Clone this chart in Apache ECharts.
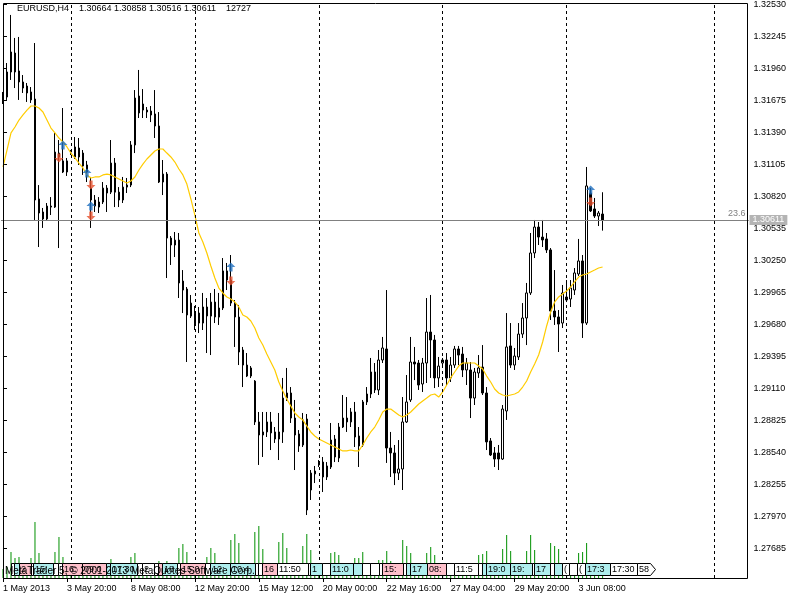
<!DOCTYPE html>
<html><head><meta charset="utf-8">
<script src="https://cdn.jsdelivr.net/npm/echarts@6/dist/echarts.min.js"></script>
<style>html,body{margin:0;padding:0;background:#fff}#c{width:800px;height:600px}</style>
</head><body><div id="c"></div>
<script>
// ---------------- data ----------------
const symbol = 'EURUSD';
const timeframe = 'H4';
const slotCount = 187; // bar slots on the axis (data + empty future)

const opens = [1.31715,1.31706,1.31929,1.32098,1.31938,1.31840,1.31804,1.31751,1.31688,1.30798,
1.30682,1.30620,1.30726,1.30726,1.31207,1.31137,1.31038,1.31216,1.31261,1.31252,
1.31207,1.31101,1.30895,1.30789,1.30726,1.30771,1.30895,1.30859,1.31118,1.30859,
1.30789,1.30904,1.30922,1.31279,1.31715,1.31644,1.31590,1.31581,1.31555,1.31448,
1.30949,1.31020,1.30450,1.30388,1.30432,1.30067,1.29996,1.29755,1.29693,1.29782,
1.29693,1.29836,1.29755,1.29880,1.29746,1.29827,1.30157,1.30076,1.29871,1.29746,
1.29453,1.29319,1.29221,1.29176,1.28812,1.28696,1.28723,1.28812,1.28723,1.28660,
1.28723,1.29025,1.29070,1.28847,1.28705,1.28607,1.28838,1.28206,1.28349,1.28429,
1.28455,1.28322,1.28411,1.28660,1.28491,1.28767,1.28847,1.28812,1.28901,1.28687,
1.28607,1.28990,1.29061,1.29257,1.29097,1.29364,1.29462,1.28580,1.28536,1.28357,
1.28393,1.28812,1.29008,1.29346,1.29337,1.29150,1.29337,1.29613,1.29542,1.29204,
1.29337,1.29364,1.29204,1.29319,1.29462,1.29417,1.29275,1.29275,1.29025,1.29248,
1.29301,1.29070,1.28643,1.28536,1.28536,1.28482,1.28910,1.29489,1.29319,1.29391,
1.29595,1.29738,1.29961,1.30317,1.30548,1.30459,1.30442,1.30344,1.29800,1.29747,
1.29693,1.29925,1.29907,1.29987,1.30130,1.30246,1.29693,1.30851,1.30709,1.30646,
1.30664];
const closes = [1.31671,1.31929,1.32107,1.31929,1.31840,1.31786,1.31742,1.31680,1.30789,1.30673,
1.30620,1.30735,1.30735,1.31216,1.31172,1.31038,1.31137,1.31225,1.31172,1.31172,
1.31092,1.31038,1.30789,1.30735,1.30771,1.30895,1.30851,1.31118,1.30859,1.30789,
1.30904,1.30922,1.31279,1.31697,1.31564,1.31590,1.31573,1.31546,1.31448,1.30949,
1.31020,1.30450,1.30388,1.30432,1.30050,1.29987,1.29765,1.29871,1.29782,1.29693,
1.29836,1.29756,1.29880,1.29747,1.29827,1.30157,1.30076,1.29871,1.29747,1.29435,
1.29319,1.29221,1.29293,1.28812,1.28696,1.28723,1.28812,1.28714,1.28660,1.28723,
1.29025,1.29070,1.28847,1.28696,1.28598,1.28830,1.28028,1.28357,1.28375,1.28455,
1.28322,1.28420,1.28651,1.28500,1.28767,1.28847,1.28812,1.28901,1.28678,1.28598,
1.28990,1.29061,1.29257,1.29097,1.29364,1.29471,1.28580,1.28536,1.28357,1.28393,
1.28812,1.28990,1.29346,1.29328,1.29141,1.29337,1.29613,1.29542,1.29204,1.29310,
1.29364,1.29204,1.29319,1.29462,1.29408,1.29275,1.29337,1.29025,1.29257,1.29293,
1.29070,1.28634,1.28518,1.28482,1.28482,1.28927,1.29480,1.29319,1.29399,1.29595,
1.29738,1.29961,1.30317,1.30548,1.30459,1.30433,1.30344,1.29800,1.29747,1.29684,
1.29961,1.29898,1.30005,1.30139,1.30246,1.29693,1.30914,1.30691,1.30646,1.30673,
1.30611];
const lows = [1.31644,1.31680,1.31858,1.31786,1.31680,1.31742,1.31662,1.31653,1.30611,1.30370,
1.30540,1.30611,1.30655,1.30718,1.30361,1.31029,1.31003,1.31190,1.31154,1.31101,
1.31012,1.30949,1.30540,1.30682,1.30673,1.30753,1.30682,1.30842,1.30726,1.30726,
1.30762,1.30851,1.30904,1.31207,1.31519,1.31519,1.31519,1.31483,1.31341,1.30940,
1.30833,1.30094,1.30210,1.30281,1.29916,1.29782,1.29346,1.29738,1.29631,1.29604,
1.29631,1.29426,1.29408,1.29693,1.29676,1.29809,1.29987,1.29845,1.29480,1.29319,
1.29123,1.29212,1.29203,1.28785,1.28429,1.28500,1.28678,1.28562,1.28625,1.28473,
1.28625,1.28999,1.28803,1.28384,1.28545,1.28589,1.27983,1.28117,1.28268,1.28411,
1.28188,1.28295,1.28393,1.28455,1.28455,1.28758,1.28723,1.28767,1.28589,1.28411,
1.28589,1.28963,1.29025,1.29070,1.29052,1.29337,1.28447,1.28322,1.28250,1.28295,
1.28206,1.28803,1.28990,1.29185,1.29097,1.29079,1.29159,1.29204,1.29114,1.29123,
1.29319,1.29141,1.29168,1.29293,1.29319,1.29212,1.29141,1.28847,1.28963,1.29204,
1.29052,1.28562,1.28509,1.28411,1.28384,1.28473,1.28830,1.29293,1.29275,1.29364,
1.29560,1.29497,1.29943,1.30272,1.30388,1.30370,1.30317,1.29720,1.29676,1.29435,
1.29649,1.29880,1.29836,1.29943,1.30112,1.29560,1.29676,1.30682,1.30629,1.30557,
1.30516];
const highs = [1.31751,1.32009,1.32437,1.32232,1.32241,1.31902,1.31831,1.31795,1.32187,1.30922,
1.30718,1.30762,1.30815,1.31386,1.31323,1.31608,1.31163,1.31234,1.31350,1.31341,
1.31234,1.31137,1.30994,1.30833,1.30815,1.30949,1.30922,1.31323,1.31163,1.30904,
1.30994,1.30985,1.31314,1.31768,1.31947,1.31777,1.31617,1.31626,1.31768,1.31572,
1.31145,1.31038,1.30468,1.30504,1.30495,1.30165,1.30014,1.29943,1.29845,1.29836,
1.29961,1.29916,1.29961,1.29996,1.29961,1.30272,1.30228,1.30299,1.29898,1.29854,
1.29480,1.29426,1.29310,1.29185,1.28901,1.28901,1.28901,1.28901,1.28767,1.28892,
1.29204,1.29293,1.29123,1.29008,1.28740,1.28892,1.28883,1.28384,1.28420,1.28473,
1.28500,1.28455,1.28803,1.28696,1.28803,1.29052,1.29034,1.28936,1.28990,1.28767,
1.29008,1.29123,1.29382,1.29337,1.29453,1.29569,1.29987,1.28723,1.28607,1.28651,
1.29034,1.29230,1.29569,1.29480,1.29364,1.29382,1.29916,1.29943,1.29587,1.29391,
1.29382,1.29426,1.29391,1.29489,1.29489,1.29480,1.29382,1.29346,1.29293,1.29408,
1.29497,1.29123,1.28669,1.28589,1.28607,1.28963,1.29782,1.29693,1.29471,1.29693,
1.29871,1.30050,1.30495,1.30611,1.30593,1.30611,1.30495,1.30361,1.30165,1.29809,
1.30032,1.30076,1.30076,1.30183,1.30442,1.30299,1.31083,1.30896,1.30807,1.30691,
1.30858];
const volumes = [11430,13970,33020,25400,26670,15240,12700,25400,71120,31750,
15240,11430,13970,33020,52070,26670,15240,3810,12700,13970,
16510,15240,17780,12700,11430,13970,15240,24130,16510,12700,
11430,13970,26670,31750,16510,12700,10160,11430,15240,21590,
16510,21590,12700,11430,38100,43180,33020,15240,5080,12700,
15240,26670,38100,31750,15240,12700,11430,48260,55880,44450,
16510,12700,11430,58420,66040,36830,15240,12700,11430,45720,
57150,38100,16510,13970,12700,40640,55880,35560,15240,5080,
12700,13970,31750,33020,29210,15240,12700,11430,25400,25400,
33020,13970,12700,11430,22860,22860,34290,21590,13970,12700,
48260,40640,31750,15240,12700,11430,31750,39370,29210,15240,
5080,12700,13970,15240,12700,11430,13970,16510,15240,29210,
30480,34290,15240,12700,11430,36830,54610,34290,15240,12700,
11430,34290,54610,35560,15240,12700,11430,44450,40640,36830,
15240,5080,12700,13970,31750,33020,44450,16510,13970,11430,
12727];
const maValues = [1.31083,1.31234,1.31386,1.31439,1.31501,1.31546,1.31590,1.31626,1.31626,1.31608,
1.31573,1.31501,1.31430,1.31386,1.31341,1.31305,1.31261,1.31207,1.31163,1.31118,
1.31074,1.31012,1.30985,1.30994,1.30994,1.31012,1.31020,1.31012,1.30994,1.30976,
1.30958,1.30940,1.30958,1.30994,1.31056,1.31109,1.31154,1.31190,1.31225,1.31243,
1.31243,1.31207,1.31172,1.31127,1.31065,1.31012,1.30931,1.30798,1.30655,1.30495,
1.30415,1.30317,1.30201,1.30094,1.30005,1.29961,1.29925,1.29907,1.29880,1.29836,
1.29765,1.29747,1.29711,1.29649,1.29560,1.29497,1.29417,1.29346,1.29275,1.29168,
1.29088,1.29017,1.28954,1.28892,1.28856,1.28830,1.28776,1.28723,1.28687,1.28660,
1.28643,1.28625,1.28607,1.28589,1.28571,1.28554,1.28554,1.28562,1.28554,1.28554,
1.28607,1.28669,1.28723,1.28767,1.28830,1.28901,1.28927,1.28927,1.28901,1.28874,
1.28856,1.28874,1.28901,1.28936,1.28972,1.28999,1.29025,1.29052,1.29061,1.29034,
1.29079,1.29141,1.29204,1.29257,1.29310,1.29337,1.29337,1.29337,1.29337,1.29310,
1.29284,1.29221,1.29168,1.29106,1.29070,1.29052,1.29043,1.29052,1.29061,1.29079,
1.29123,1.29177,1.29257,1.29328,1.29408,1.29524,1.29667,1.29791,1.29880,1.29925,
1.29952,1.29978,1.30014,1.30059,1.30103,1.30121,1.30130,1.30148,1.30165,1.30183,
1.30192];

const xTickIndex = [0,16,32,48,64,80,96,112,128,144];
const xTickLabels = ['1 May 2013','3 May 20:00','8 May 08:00','12 May 20:00','15 May 12:00',
  '20 May 00:00','22 May 16:00','27 May 04:00','29 May 20:00','3 Jun 08:00'];
const separatorIndex = [17,48,79,110,141,178];
const yTicks = [1.27685,1.27970,1.28255,1.28540,1.28825,1.29110,1.29395,1.29680,1.29965,
  1.30250,1.30535,1.30820,1.31105,1.31390,1.31675,1.31960,1.32245,1.32530];
const yMin = 1.274223, yMax = 1.325434;
const volMax = 730250;

const buyMarks = [[15,1.31279],[21,1.31029],[22,1.30735],[57,1.30192],[147,1.30878]];
const sellMarks = [[14,1.31163],[22,1.30922],[22,1.30646],[57,1.30067],[147,1.30771]];
const lastPrice = 1.30611;
const levelLabel = '23.6';

const eventStart = [1.88,2.63,3.88,6.88,7.63,12.63,13.88,14.88,19.88,25.88,26.88,33.63,34.88,37.88,38.88,
 39.88,43.63,44.38,50.63,51.88,56.88,63.13,63.88,64.88,68.63,76.38,76.88,79.88,81.88,87.63,89.88,
 91.88,94.13,94.88,100.13,100.88,101.88,106.13,110.88,112.88,118.88,119.88,120.88,126.88,132.38,
 132.88,136.88,137.88,139.88,141.63,143.63,145.63,151.88,158.63];
const lastEventEnd = 163.13;
const eventText = ['','','23:00','','15:45','','','16:00','09:00','','17:30','','20:00','','',
 '18:00','','15:00','','12:00','10:45','','','16:00','11:50','','16:00','0','11:00','1','1',
 '0','','15:00','','','17:00','08:00','0','11:50','','','19:00','19:00','',
 '17:00','','1','(','0','(','17:30','17:30','58'];
const eventKind = ['w','c','p','w','c','w','w','p','p','c','c','w','w','w','p',
 'c','w','p','w','c','c','w','w','p','w','w','c','w','c','c','w',
 'w','w','p','w','c','c','p','w','w','w','c','c','c','w',
 'c','w','c','w','w','w','c','w','w'];
const copyright = 'MetaTrader 5, \u00a9 2001-2013 MetaQuotes Software Corp.';

// ---------------- chart ----------------
const FONT = 'Liberation Sans';
const slots = Array.from({length: slotCount}, (_, i) => String(i));
const candleData = opens.map((o, i) => [o, closes[i], lows[i], highs[i]]);
const n = opens.length - 1;
const header = `${symbol},${timeframe}    ${opens[n].toFixed(5)} ${highs[n].toFixed(5)} ${lows[n].toFixed(5)} ${closes[n].toFixed(5)}    ${volumes[n]}`;
const kindFill = {w: '#ffffff', p: '#ffc0cb', c: '#afeeee'};
const eventData = eventStart.map((s, i) => [s, i + 1 < eventStart.length ? eventStart[i + 1] : lastEventEnd]);

const arrowUp = 'path://M0,-4L4,0L1.5,0L1.5,4L-1.5,4L-1.5,0L-4,0Z';
const arrowDown = 'path://M0,4L4,0L1.5,0L1.5,-4L-1.5,-4L-1.5,0L-4,0Z';

const chart = echarts.init(document.getElementById('c'), null, {renderer: 'canvas'});
chart.setOption({
  animation: false,
  backgroundColor: '#ffffff',
  textStyle: {fontFamily: FONT, fontSize: 9, color: '#000'},
  grid: {left: 0.5, top: 3, width: 748, height: 575, containLabel: false},
  xAxis: [{
    type: 'category', data: slots, boundaryGap: true,
    axisLine: {show: false},
    axisTick: {show: true, alignWithLabel: true, customValues: xTickIndex, length: 4, lineStyle: {color: '#000'}},
    axisLabel: {show: true, customValues: xTickIndex, align: 'left', margin: 6, color: '#000', fontFamily: FONT, fontSize: 9,
      formatter: (v) => { const k = xTickIndex.indexOf(Number(v)); return k >= 0 ? xTickLabels[k] : ''; }},
    splitLine: {show: false}
  }, {
    type: 'value', min: -0.5, max: slotCount - 0.5, show: false
  }],
  yAxis: [{
    type: 'value', position: 'right', min: yMin, max: yMax,
    axisLine: {show: false},
    axisTick: {show: true, customValues: yTicks, length: 4, lineStyle: {color: '#000'}},
    axisLabel: {show: true, customValues: yTicks, margin: 5, color: '#000', fontFamily: FONT, fontSize: 9,
      formatter: (v) => Number(v).toFixed(5)},
    splitLine: {show: false}
  }, {
    type: 'value', min: 0, max: volMax, show: false
  }],
  series: [{
    name: 'Volumes', type: 'bar', xAxisIndex: 0, yAxisIndex: 1, data: volumes, barWidth: 1,
    itemStyle: {color: '#009000'}, z: 1, silent: true,
    markLine: {silent: true, symbol: ['none', 'none'], label: {show: false},
      lineStyle: {color: '#000', type: [3, 3], width: 1},
      data: separatorIndex.map(i => ({xAxis: i}))}
  }, {
    name: symbol, type: 'candlestick', xAxisIndex: 0, yAxisIndex: 0, data: candleData, barWidth: 2,
    itemStyle: {color: '#ffffff', color0: '#000000', borderColor: '#000000', borderColor0: '#000000', borderColorDoji: '#000000', borderWidth: 1},
    z: 3, silent: true
  }, {
    name: 'MA', type: 'line', xAxisIndex: 0, yAxisIndex: 0, data: maValues, showSymbol: false, symbol: 'none',
    lineStyle: {color: '#ffcc00', width: 1.2}, z: 4, silent: true,
    markLine: {silent: true, symbol: ['none', 'none'], precision: 5,
      data: [
        {yAxis: lastPrice, lineStyle: {color: '#808080', type: 'solid', width: 1},
          label: {show: true, position: 'end', distance: 1, formatter: lastPrice.toFixed(5), color: '#ffffff',
            backgroundColor: '#b4b4b4', padding: [1, 3, 0, 3], fontFamily: FONT, fontSize: 9}},
        {yAxis: lastPrice, lineStyle: {color: '#808080', type: 'solid', width: 1},
          label: {show: true, position: 'insideEndTop', distance: [3, 2], formatter: levelLabel, color: '#808080',
            fontFamily: FONT, fontSize: 9}}
      ]}
  }, {
    name: 'Buy', type: 'scatter', xAxisIndex: 0, yAxisIndex: 0, data: buyMarks, symbol: arrowUp, symbolSize: [9, 9],
    itemStyle: {color: '#1e6ebe'}, z: 6, silent: true
  }, {
    name: 'Sell', type: 'scatter', xAxisIndex: 0, yAxisIndex: 0, data: sellMarks, symbol: arrowDown, symbolSize: [9, 9],
    itemStyle: {color: '#e6502d'}, z: 6, silent: true
  }, {
    name: 'Events', type: 'custom', xAxisIndex: 1, yAxisIndex: 0, data: eventData, clip: false, z: 5, silent: true,
    renderItem: (params, api) => {
      const i = params.dataIndex;
      const x0 = Math.round(api.coord([api.value(0), yMin])[0]) + 0.5;
      const x1 = Math.round(api.coord([api.value(1), yMin])[0]) + 0.5;
      const cs = params.coordSys;
      const top = Math.round(cs.y + cs.height) - 14.5;
      const h = 12;
      const w = x1 - x0;
      const fill = kindFill[eventKind[i]];
      const txt = {style: {text: eventText[i], fill: '#000', font: `9px "${FONT}"`, width: Math.max(1, w - 3), overflow: 'truncate', ellipsis: ''}};
      if (i === eventStart.length - 1) {
        return {type: 'polygon', shape: {points: [[x0, top], [x1 - 5, top], [x1, top + h / 2], [x1 - 5, top + h], [x0, top + h]]},
          style: {fill, stroke: '#000', lineWidth: 1}, textContent: txt, textConfig: {position: 'insideLeft', distance: 2}};
      }
      return {type: 'rect', shape: {x: x0, y: top, width: w, height: h},
        style: {fill, stroke: '#000', lineWidth: 1}, textContent: txt, textConfig: {position: 'insideLeft', distance: 2}};
    }
  }],
  graphic: [
    {type: 'rect', z: 100, silent: true, shape: {x: 3.5, y: 3.5, width: 744, height: 575}, style: {fill: 'none', stroke: '#000', lineWidth: 1}},
    {type: 'text', z: 100, silent: true, x: 17, y: 9, style: {text: header, fill: '#000', font: `9px "${FONT}"`, verticalAlign: 'middle'}},
    {type: 'text', z: 100, silent: true, x: 5, y: 571, style: {text: copyright, fill: '#000', font: `10px "${FONT}"`, verticalAlign: 'middle'}}
  ]
});
</script>
</body></html>
